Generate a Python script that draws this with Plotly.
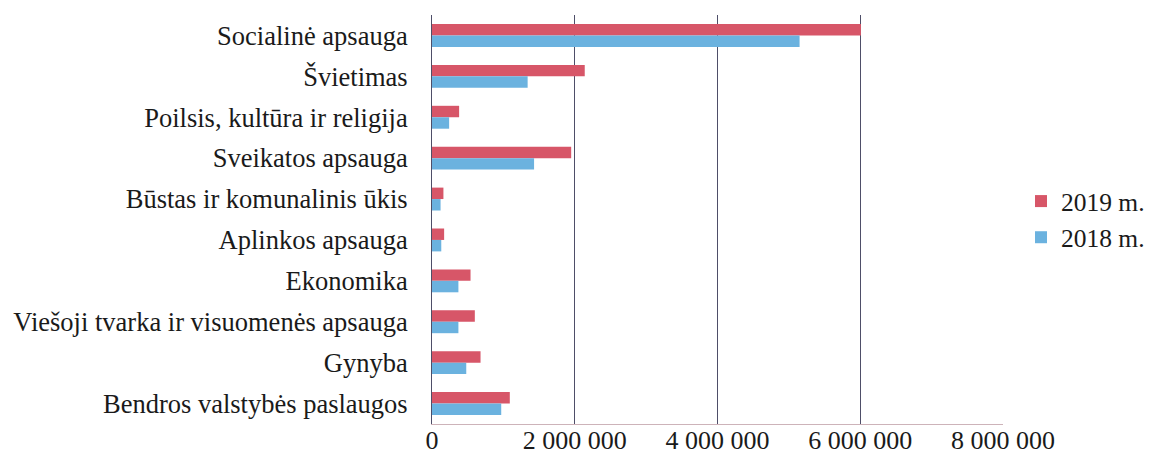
import plotly.graph_objects as go

categories = [
    "Socialinė apsauga",
    "Švietimas",
    "Poilsis, kultūra ir religija",
    "Sveikatos apsauga",
    "Būstas ir komunalinis ūkis",
    "Aplinkos apsauga",
    "Ekonomika",
    "Viešoji tvarka ir visuomenės apsauga",
    "Gynyba",
    "Bendros valstybės paslaugos",
]
values_2019 = [6010000, 2140000, 380000, 1950000, 160000, 170000, 540000, 600000, 680000, 1090000]
values_2018 = [5150000, 1340000, 240000, 1430000, 120000, 130000, 370000, 370000, 480000, 970000]
tick_vals = [0, 2000000, 4000000, 6000000, 8000000]
tick_text = ["0", "2 000 000", "4 000 000", "6 000 000", "8 000 000"]

font_family = "Liberation Serif, Times New Roman, serif"

fig = go.Figure()
fig.add_trace(go.Bar(
    y=categories, x=values_2019, orientation="h", name="2019 m.",
    legendgroup="a",
    marker=dict(color="#D75668", line=dict(width=0)),
))
fig.add_trace(go.Bar(
    y=categories, x=values_2018, orientation="h", name="2018 m.",
    legendgroup="b",
    marker=dict(color="#6BB2DF", line=dict(width=0)),
))

# The page body has an ~8px margin, so the figure is sized/offset to compensate.
fig.update_layout(
    width=1139, height=448,
    margin=dict(l=424, r=144, t=7, b=32, autoexpand=False),
    paper_bgcolor="white", plot_bgcolor="white",
    barmode="group", bargap=0.44, bargroupgap=0,
    font=dict(family=font_family, size=26.5, color="#1a1a1a"),
    showlegend=True,
    legend=dict(
        x=1.0315, y=0.5, xanchor="left", yanchor="middle",
        font=dict(family=font_family, size=25.5, color="#1a1a1a"),
        traceorder="normal", itemwidth=30, tracegroupgap=14,
        bgcolor="rgba(0,0,0,0)",
    ),
)
fig.update_xaxes(
    range=[0, 8000000], tickvals=tick_vals, ticktext=tick_text,
    showgrid=True, gridcolor="#4E4E68", gridwidth=1,
    zeroline=False, showline=True, linecolor="#CDB3B9", linewidth=1,
    ticks="", ticklabelstandoff=-7,
    tickfont=dict(family=font_family, size=26, color="#1a1a1a"),
    fixedrange=True, automargin=False,
)
fig.update_yaxes(
    autorange="reversed", showgrid=False, showline=True,
    linecolor="#4E4E68", linewidth=1, ticks="",
    ticklabelstandoff=18,
    tickfont=dict(family=font_family, size=26.5, color="#1a1a1a"),
    fixedrange=True, automargin=False,
)

fig.write_html("out.html")
